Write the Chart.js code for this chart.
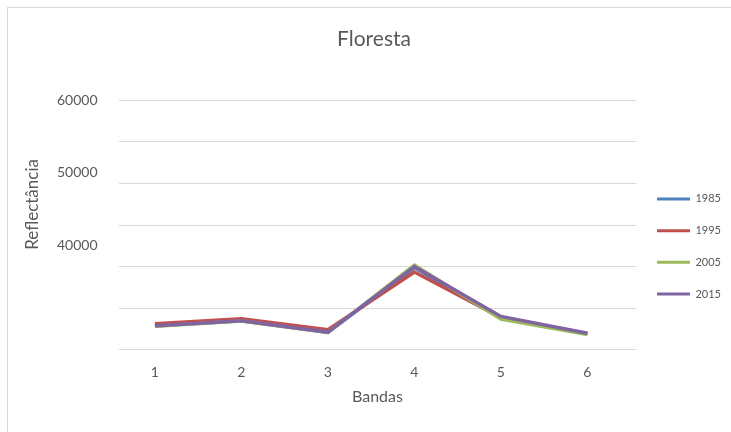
<!DOCTYPE html>
<html>
<head>
<meta charset="utf-8">
<script src="https://cdn.jsdelivr.net/npm/chart.js@4/dist/chart.umd.min.js"></script>
<style>
  html, body { margin: 0; padding: 0; background: #fff; overflow: hidden; }
  #frame { position: absolute; left: 7px; top: 7px; width: 760px; height: 460px; border: 1px solid #d9d9d9; }
  #wrap { position: absolute; left: 0; top: 0; width: 731px; height: 432px; }
</style>
</head>
<body>
<div id="frame"></div>
<div id="wrap"><canvas id="c" width="731" height="432"></canvas></div>
<script>
const chartTitle = 'Floresta';
const xTitle = 'Bandas';
const yTitle = 'Reflectância';
const bands = ['1', '2', '3', '4', '5', '6'];
const seriesNames = ['1985', '1995', '2005', '2015'];
const s1985 = [32850, 33480, 32100, 39880, 33800, 31920];
const s1995 = [33130, 33740, 32410, 39360, 33860, 31950];
const s2005 = [32830, 33470, 32080, 40180, 33700, 31850];
const s2015 = [32890, 33500, 32130, 40000, 34010, 31990];
const seriesColors = ['#4F81BD', '#C0504D', '#9BBB59', '#8064A2'];
const gridMin = 30000, gridMax = 60000, gridStep = 5000;
const yLabelValues = [60000, 50000, 40000];

const allSeries = [s1985, s1995, s2005, s2015];
const bandValues = bands.map(Number);
const textColor = '#595959';
const fontFamily = 'Lato, "Liberation Sans", sans-serif';

const datasets = allSeries.map((d, i) => ({
  label: seriesNames[i],
  data: d.map((v, j) => ({ x: bandValues[j], y: v })),
  borderColor: seriesColors[i],
  backgroundColor: seriesColors[i],
  borderWidth: 3.5,
  pointRadius: 0,
  pointHoverRadius: 0,
  tension: 0,
  fill: false,
  order: allSeries.length - i
}));

// y-axis title drawn a little above the plot's vertical centre, as in the original
const yTitlePlugin = {
  id: 'yTitlePlugin',
  afterDraw(chart) {
    const { ctx, chartArea } = chart;
    const yl = chart.scales.yl;
    ctx.save();
    ctx.translate(yl.left + 16, chartArea.top + chartArea.height * 0.4177);
    ctx.rotate(-Math.PI / 2);
    ctx.font = '17px ' + fontFamily;
    ctx.fillStyle = textColor;
    ctx.textAlign = 'center';
    ctx.textBaseline = 'middle';
    ctx.fillText(yTitle, 0, 0);
    ctx.restore();
  }
};

new Chart(document.getElementById('c'), {
  type: 'line',
  data: { datasets },
  plugins: [yTitlePlugin],
  options: {
    responsive: false,
    animation: false,
    devicePixelRatio: 1,
    layout: { padding: { left: 17, right: 0, top: 0, bottom: 26 } },
    plugins: {
      tooltip: { enabled: false },
      title: {
        display: true,
        text: chartTitle,
        color: textColor,
        font: { family: fontFamily, size: 21, weight: 'normal' },
        padding: { top: 27, bottom: 48 }
      },
      legend: {
        position: 'right',
        fullSize: false,
        align: 'center',
        title: { display: true, text: '', font: { size: 10 }, padding: { top: 31, bottom: 0 } },
        labels: {
          boxWidth: 33,
          boxHeight: 3,
          padding: 20.7,
          color: textColor,
          font: { family: fontFamily, size: 11 },
          sort: (a, b) => a.datasetIndex - b.datasetIndex,
          generateLabels: (chart) => chart.data.datasets.map((ds, i) => ({
            text: ds.label,
            fillStyle: ds.borderColor,
            strokeStyle: ds.borderColor,
            lineWidth: 0,
            fontColor: textColor,
            hidden: false,
            datasetIndex: i
          }))
        }
      }
    },
    scales: {
      x: {
        type: 'linear',
        min: 0.58,
        max: 6.565,
        grid: { display: false, drawTicks: false },
        border: { display: false },
        afterBuildTicks: (axis) => { axis.ticks = bandValues.map(v => ({ value: v })); },
        ticks: {
          color: textColor, font: { family: fontFamily, size: 14 }, padding: 14.6,
          callback: (v) => bands[bandValues.indexOf(v)]
        },
        title: {
          display: true, text: xTitle, color: textColor,
          font: { family: fontFamily, size: 16 },
          padding: { top: -9, bottom: 0 }
        }
      },
      y: {
        position: 'left',
        weight: 0,
        min: gridMin,
        max: gridMax,
        grid: { color: '#d9d9d9', lineWidth: 1, drawTicks: false },
        border: { display: false },
        ticks: { display: false, stepSize: gridStep }
      },
      yl: {
        position: 'left',
        weight: 1,
        min: 25655,
        max: gridMax,
        grid: { display: false, drawTicks: false },
        border: { display: false },
        afterBuildTicks: (axis) => { axis.ticks = yLabelValues.map(v => ({ value: v })); },
        ticks: {
          color: textColor,
          font: { family: fontFamily, size: 14 },
          padding: 21,
          callback: (v) => String(v)
        },
        title: {
          display: true, text: '', 
          font: { family: fontFamily, size: 17 },
          padding: { top: 0, bottom: -1.4 }
        }
      }
    }
  }
});
</script>
</body>
</html>
